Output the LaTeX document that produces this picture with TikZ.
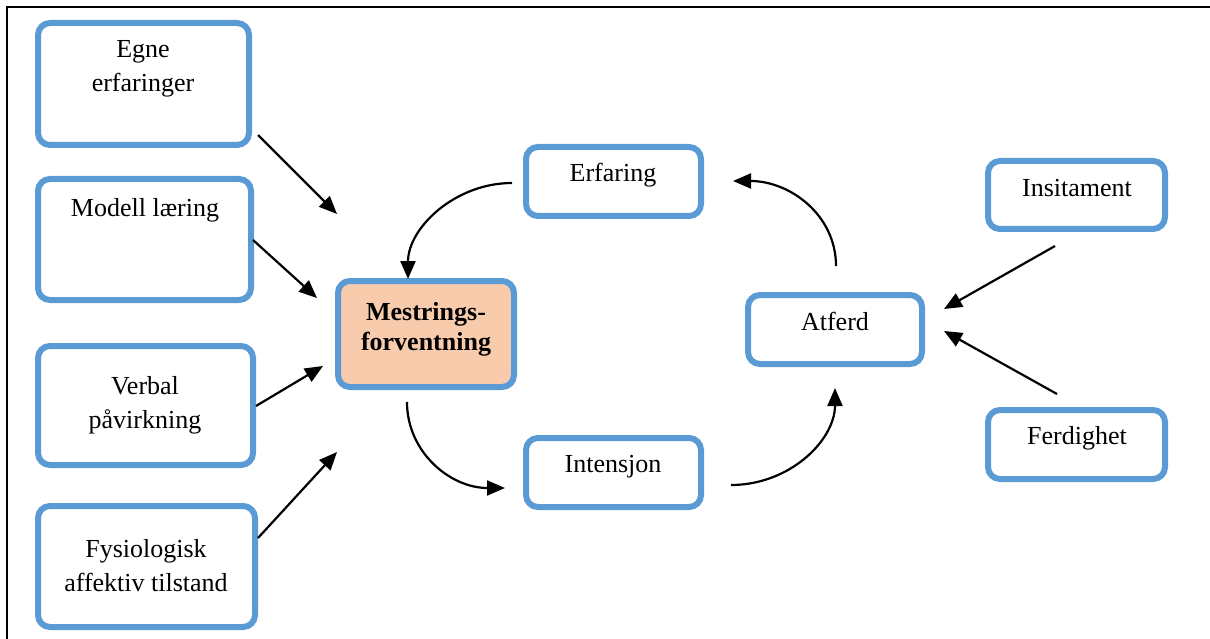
\documentclass[tikz,border=0pt]{standalone}
\usepackage{fontspec}
\setmainfont{Liberation Serif}
\usetikzlibrary{arrows.meta}
\definecolor{boxblue}{HTML}{5B9BD5}
\definecolor{peach}{HTML}{F8CBAD}
\tikzset{
  box/.style={draw=boxblue, line width=6pt, rounded corners=12pt, inner sep=0pt, fill=white},
  txt/.style={inner sep=0pt, align=center, font=\fontsize{26}{34}\selectfont},
  btxt/.style={inner sep=0pt, align=center, font=\fontsize{26}{30}\selectfont\bfseries},
  arr/.style={line width=2.2pt, -{Triangle[length=18pt,width=15pt]}},
  frame/.style={line width=1.5pt}
}
\begin{document}
\begin{tikzpicture}[x=1pt,y=-1pt]
\useasboundingbox (0,0) rectangle (1210,639);
% frame
\coordinate (fa) at (1210,7);
\coordinate (fb) at (7,7);
\coordinate (fc) at (7,639);
\draw[frame] (fa) -- (fb) -- (fc);
% boxes
\node[box, minimum width=211pt, minimum height=122pt] (egne) at (143.5,84) {};
\node[box, minimum width=213pt, minimum height=121pt] (modell) at (144.5,239.5) {};
\node[box, minimum width=215pt, minimum height=119pt] (verbal) at (145.5,405.5) {};
\node[box, minimum width=217pt, minimum height=121pt] (fysio) at (146.5,566.5) {};
\node[box, fill=peach, minimum width=176pt, minimum height=106pt] (mest) at (426,334) {};
\node[box, minimum width=175pt, minimum height=69pt] (erf) at (613.5,181.5) {};
\node[box, minimum width=175pt, minimum height=69pt] (int) at (613.5,472.5) {};
\node[box, minimum width=174pt, minimum height=69pt] (atf) at (835,329.5) {};
\node[box, minimum width=177pt, minimum height=68pt] (ins) at (1076.5,195) {};
\node[box, minimum width=177pt, minimum height=69pt] (ferd) at (1076.5,444.5) {};
% texts
\node[txt] (egnet) at (143,69) {Egne\\erfaringer};
\node[txt] (modellt) at (145,210) {Modell læring};
\node[txt] (verbalt) at (145,405) {Verbal\\påvirkning};
\node[txt] (fysiot) at (146,566) {Fysiologisk\\affektiv tilstand};
\node[btxt] (mestt) at (426,329) {Mestrings-\\forventning};
\node[txt] (erft) at (613,175) {Erfaring};
\node[txt] (intt) at (613,467) {Intensjon};
\node[txt] (atft) at (835,321) {Atferd};
\node[txt] (inst) at (1077,188) {Insitament};
\node[txt] (ferdt) at (1077,438) {Ferdighet};
% arrow end points
\coordinate (a1s) at (258,135); \coordinate (a1e) at (337,214);
\coordinate (a2s) at (253,240); \coordinate (a2e) at (317,298);
\coordinate (a3s) at (256,406); \coordinate (a3e) at (323,366);
\coordinate (a4s) at (258,538); \coordinate (a4e) at (337,452);
\coordinate (a5s) at (1055,246); \coordinate (a5e) at (944,309);
\coordinate (a6s) at (1057,394); \coordinate (a6e) at (944,331);
\coordinate (c1s) at (512,183); \coordinate (c1e) at (408,279);
\coordinate (c2s) at (407,402); \coordinate (c2e) at (505,488);
\coordinate (c3s) at (731,485); \coordinate (c3e) at (835,388);
\coordinate (c4s) at (836,266); \coordinate (c4e) at (733,181);
\draw[arr] (a1s) -- (a1e);
\draw[arr] (a2s) -- (a2e);
\draw[arr] (a3s) -- (a3e);
\draw[arr] (a4s) -- (a4e);
\draw[arr] (a5s) -- (a5e);
\draw[arr] (a6s) -- (a6e);
\draw[arr] (c1s) .. controls (455,183) and (408,228) .. (c1e);
\draw[arr] (c2s) .. controls (407,452) and (450,488) .. (c2e);
\draw[arr] (c3s) .. controls (790,485) and (835,440) .. (c3e);
\draw[arr] (c4s) .. controls (836,215) and (790,181) .. (c4e);
\end{tikzpicture}
\end{document}
